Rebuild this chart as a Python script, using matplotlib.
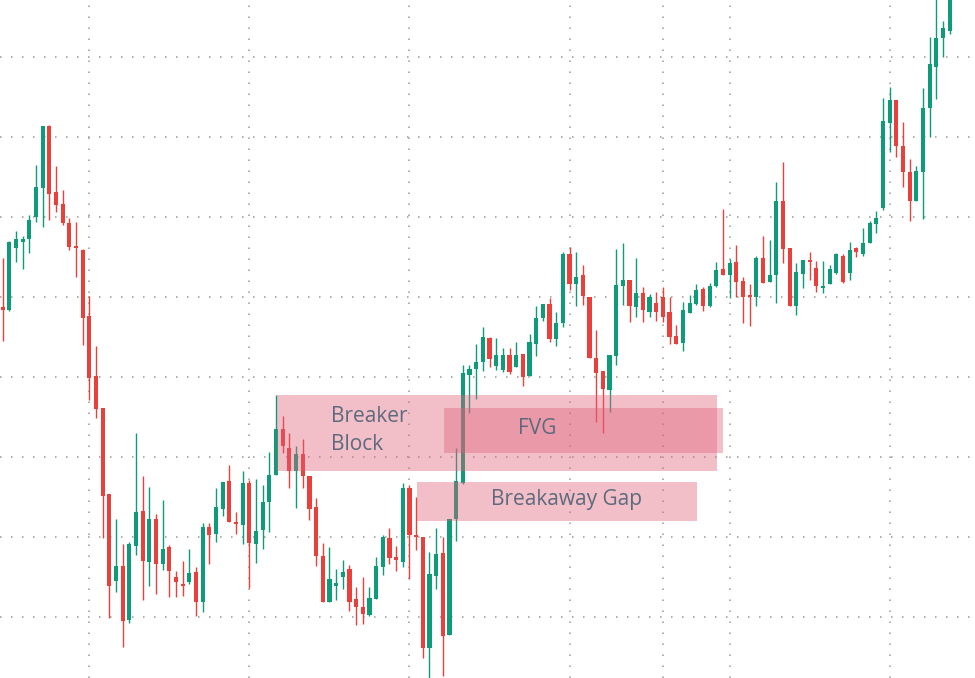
import numpy as np
import matplotlib.pyplot as plt
from matplotlib.patches import Rectangle

# candle data (price units)
opens = [371, 368, 430, 436, 439, 461, 490, 552, 486, 474, 455, 432, 428, 362, 302, 270, 184, 97, 112, 58,
         132, 167, 116, 159, 114, 131, 101, 94, 96, 106, 76, 151, 144, 169, 197, 156, 153, 195, 134, 148,
         176, 203, 249, 230, 207, 224, 202, 171, 122, 76, 92, 101, 109, 79, 71, 63, 79, 111, 140, 121,
         116, 190, 143, 141, 30, 102, 125, 43, 159, 195, 303, 309, 316, 340, 312, 308, 323, 311, 324, 302,
         334, 360, 374, 339, 355, 424, 394, 403, 381, 320, 307, 288, 322, 392, 398, 371, 385, 366, 375, 381,
         366, 342, 335, 365, 374, 389, 372, 392, 409, 403, 416, 397, 383, 381, 420, 396, 403, 477, 430, 372,
         404, 418, 410, 390, 394, 405, 422, 405, 430, 424, 435, 454, 470, 555, 578, 532, 506, 477, 506, 570,
         611, 640, 647]
highs = [420, 437, 447, 442, 463, 513, 552, 553, 512, 488, 460, 456, 429, 382, 332, 270, 184, 159, 134, 136,
         245, 202, 191, 164, 178, 133, 107, 117, 129, 111, 155, 155, 190, 196, 213, 166, 207, 198, 199, 193,
         226, 283, 262, 245, 232, 239, 202, 180, 135, 131, 109, 118, 113, 91, 101, 91, 121, 143, 150, 132,
         195, 193, 181, 141, 126, 150, 141, 159, 230, 313, 313, 334, 351, 341, 340, 330, 330, 336, 324, 344,
         372, 374, 380, 366, 426, 431, 426, 413, 381, 348, 307, 323, 429, 435, 398, 420, 391, 384, 386, 391,
         381, 353, 376, 383, 394, 391, 395, 416, 469, 419, 433, 401, 394, 422, 442, 438, 496, 516, 430, 415,
         418, 426, 417, 417, 413, 425, 424, 436, 431, 450, 457, 467, 580, 591, 578, 556, 519, 512, 590, 641,
         683, 657, 688]
lows = [337, 367, 416, 409, 425, 456, 451, 458, 466, 453, 428, 401, 333, 278, 260, 140, 60, 86, 31, 55,
        123, 78, 92, 84, 108, 81, 81, 82, 94, 62, 66, 114, 136, 162, 156, 144, 134, 90, 115, 129,
        146, 203, 225, 190, 170, 190, 158, 112, 76, 76, 78, 89, 67, 53, 54, 62, 79, 103, 114, 107,
        111, 99, 128, 20, 0, 89, 2, 43, 137, 194, 265, 279, 307, 311, 308, 306, 304, 311, 292, 302,
        322, 357, 336, 332, 351, 388, 372, 373, 320, 256, 245, 266, 313, 373, 356, 361, 356, 361, 357, 356,
        334, 334, 327, 365, 373, 367, 371, 391, 403, 380, 381, 355, 352, 372, 395, 396, 375, 415, 372, 363,
        390, 398, 386, 385, 394, 404, 395, 398, 421, 422, 435, 445, 468, 526, 521, 491, 457, 477, 459, 541,
        579, 621, 644]
closes = [368, 436, 439, 439, 458, 491, 552, 484, 473, 455, 431, 430, 360, 300, 269, 182, 92, 112, 57, 134,
          166, 117, 159, 114, 129, 107, 96, 92, 105, 76, 151, 143, 171, 196, 156, 154, 195, 135, 147, 176,
          203, 249, 232, 207, 224, 202, 169, 122, 76, 99, 95, 106, 76, 71, 64, 80, 112, 141, 120, 118,
          190, 143, 141, 30, 104, 124, 42, 159, 197, 305, 309, 316, 341, 319, 323, 323, 306, 323, 301, 336,
          360, 374, 339, 355, 424, 394, 401, 382, 320, 305, 289, 323, 393, 398, 372, 385, 368, 381, 366, 361,
          341, 334, 368, 375, 388, 372, 392, 408, 403, 415, 396, 381, 381, 420, 395, 403, 477, 429, 372, 406,
          418, 416, 392, 392, 409, 424, 396, 428, 426, 435, 455, 460, 557, 578, 532, 506, 477, 507, 570, 614,
          640, 650, 683]

# marked zones: (left candle, right candle, bottom, top)
breaker = (41.1, 107.1, 207, 283)
fvg = (66.2, 108.0, 225, 270)
gap = (62.1, 104.1, 157, 196)

green = '#0e9b7a'
red = '#e9403b'
zone_col = '#e0607a'
text_col = '#5d6a7c'

o = np.array(opens)
h = np.array(highs)
l = np.array(lows)
c = np.array(closes)
x = np.arange(len(o))
up = c >= o
cols = np.where(up, green, red)

fig = plt.figure(figsize=(9.75, 6.78), dpi=100)
ax = fig.add_axes([0, 0, 1, 1])

# grid
for gy in np.arange(61, 678, 80):
    ax.axhline(gy, color='#9a9a9a', lw=1.1, ls=(0, (1, 6.2)), zorder=0)
for gx in [13, 37, 61, 85, 99, 109, 133]:
    ax.axvline(gx, color='#9a9a9a', lw=1.1, ls=(0, (1, 6.2)), zorder=0)

# candles
ax.vlines(x, l, h, colors=cols, lw=1.0, zorder=2)
body_lo = np.minimum(o, c)
body_h = np.maximum(np.abs(c - o), 1.5)
ax.bar(x, body_h, bottom=body_lo, width=0.62, color=cols, zorder=3)

# zones
for (x0, x1, y0, y1) in [breaker, gap, fvg]:
    ax.add_patch(Rectangle((x0, y0), x1 - x0, y1 - y0, facecolor=zone_col,
                           alpha=0.4, edgecolor='none', zorder=4))

fnt = dict(family='Open Sans', fontsize=15, color=text_col, zorder=5)
ax.text(49.3, 261, 'Breaker', ha='left', va='center', **fnt)
ax.text(49.3, 234, 'Block', ha='left', va='center', **fnt)
ax.text(80.1, 250, 'FVG', ha='center', va='center', **fnt)
ax.text(84.6, 179, 'Breakaway Gap', ha='center', va='center', **fnt)

ax.set_xlim(-0.4, 145.8)
ax.set_ylim(0, 678)
ax.axis('off')

fig.savefig('out.png', dpi=100, facecolor='white')
